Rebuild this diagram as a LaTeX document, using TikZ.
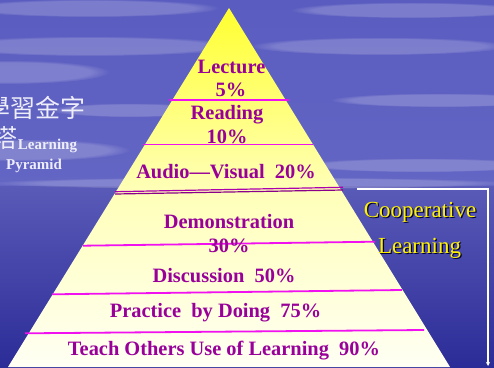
\documentclass[tikz,border=0pt]{standalone}
\usepackage{fontspec}
\setmainfont{Liberation Serif}
\newfontfamily\cjkfont{Noto Sans CJK TC}
\usetikzlibrary{arrows.meta,fadings}
\definecolor{txtpurple}{HTML}{990099}
\definecolor{magline}{HTML}{F010F0}
\definecolor{skytop}{HTML}{5A5CC0}
\definecolor{skyhor}{HTML}{6466C4}
\definecolor{seatop}{HTML}{5A5AB8}
\definecolor{seabot}{HTML}{2C2C98}
\definecolor{pyrtop}{HTML}{FFFF30}
\definecolor{pyrmid}{HTML}{FFFFB8}
\definecolor{pyrbot}{HTML}{FFFFF4}
\definecolor{cjkwhite}{HTML}{EEEEFA}
\tikzset{
  level/.style={font=\bfseries\fontsize{20.4}{22}\selectfont, text=txtpurple, inner sep=0pt, anchor=base},
  cjk/.style={font=\cjkfont\fontsize{25}{27}\selectfont, text=cjkwhite, inner sep=0pt, anchor=base west},
  smallwhite/.style={font=\bfseries\fontsize{15}{17}\selectfont, text=cjkwhite, inner sep=0pt, anchor=base},
  coop/.style={font=\fontsize{23}{25}\selectfont, text=yellow, inner sep=0pt, anchor=base},
  coopshadow/.style={font=\fontsize{23}{25}\selectfont, text=black!80!blue, inner sep=0pt, anchor=base},
  divider/.style={draw=magline, line width=1.8pt},
  cloud/.style={fill=white, opacity=0.2, path fading=circle with fuzzy edge 20 percent},
}
\begin{document}
\begin{tikzpicture}[x=1pt,y=-1pt]
\useasboundingbox (0,0) rectangle (494,367);
% background sky and sea
\shade[top color=skytop, bottom color=skyhor] (0,0) rectangle (494,186);
\shade[top color=seatop, bottom color=seabot] (0,186) rectangle (494,367);
% clouds
\fill[cloud] (90,8) ellipse (130 and 9);
\fill[cloud] (90,46) ellipse (150 and 10);
\fill[cloud] (10,72) ellipse (100 and 12);
\fill[cloud] (130,110) ellipse (80 and 7);
\fill[cloud] (410,10) ellipse (120 and 8);
\fill[cloud] (380,46) ellipse (130 and 9);
\fill[cloud] (440,100) ellipse (110 and 7);
\fill[cloud] (20,150) ellipse (110 and 11);
\fill[cloud] (420,165) ellipse (120 and 7);
\fill[cloud] (250,183) ellipse (260 and 6);
% pyramid
\coordinate (apex) at (229,8);
\coordinate (bl) at (8,367);
\coordinate (br) at (450,367);
\begin{scope}
\clip (apex) -- (bl) -- (br) -- cycle;
\shade[top color=pyrtop, bottom color=pyrmid] (0,8) rectangle (494,190);
\shade[top color=pyrmid, bottom color=pyrbot] (0,190) rectangle (494,367);
\end{scope}
% dividers
\draw[divider] (169,100) -- (289,100);
\draw[divider] (143,144.5) -- (313,144.5);
\draw[draw=txtpurple!80!magenta, line width=1.2pt] (115,191.7) -- (343,187.3);
\draw[draw=txtpurple!90!black, line width=1.2pt] (115,194) -- (343,190);
\draw[divider] (83,245.7) -- (375,241.7);
\draw[divider] (52,294.3) -- (402,290);
\draw[divider] (25,333.3) -- (424,330);
% level labels
\node[level] (lec) at (231.5,73) {Lecture};
\node[level] (lecp) at (231,96.7) {5\%};
\node[level] (rea) at (227,119) {Reading};
\node[level] (reap) at (227,143) {10\%};
\node[level] (aud) at (226,178) {Audio---Visual\ \ 20\%};
\node[level] (dem) at (229,228) {Demonstration};
\node[level] (demp) at (229,252) {30\%};
\node[level] (dis) at (224,282) {Discussion\ \ 50\%};
\node[level] (pra) at (215.5,317) {Practice\ \ by Doing\ \ 75\%};
\node[level] (tea) at (224,355) {Teach Others Use of Learning\ \ 90\%};
% left title
\node[cjk] (cjk1) at (-15,117) {學習金字};
\node[cjk] (cjk2) at (-8,147) {塔};
\node[smallwhite] (lrn) at (47.5,149) {Learning};
\node[smallwhite] (pyr) at (34,169) {Pyramid};
% cooperative learning bracket
\coordinate (bk1) at (357,189);
\coordinate (bk2) at (488,189);
\coordinate (bk3) at (488,366);
\draw[white, line width=1.2pt, -{Stealth[length=4pt,width=4pt]}] (bk1) -- (bk2) -- (bk3);
\node[coopshadow] at (421.3,218.3) {Cooperative};
\node[coop] (coop1) at (420,217) {Cooperative};
\node[coopshadow] at (420.8,254.3) {Learning};
\node[coop] (coop2) at (419.5,253) {Learning};
\end{tikzpicture}
\end{document}
